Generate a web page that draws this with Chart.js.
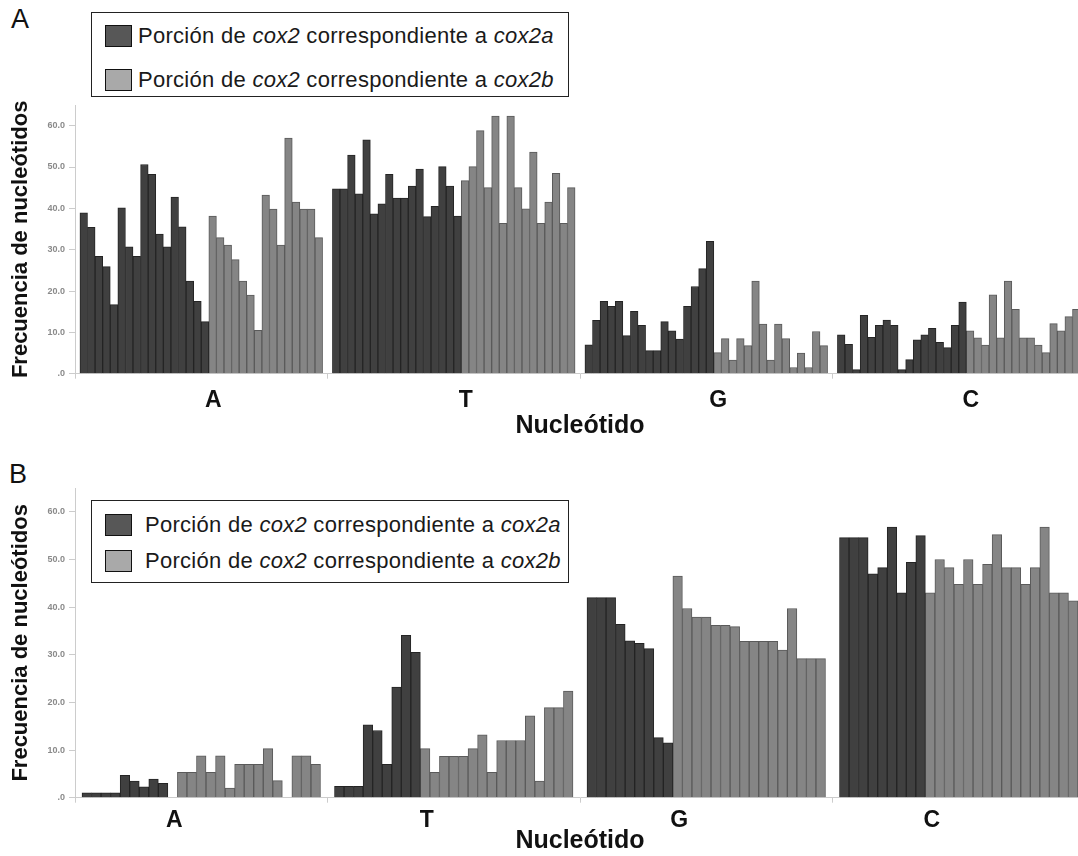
<!DOCTYPE html>
<html>
<head>
<meta charset="utf-8">
<script src="https://cdn.jsdelivr.net/npm/chart.js@4.4.1/dist/chart.umd.min.js"></script>
<style>
html,body{margin:0;padding:0;background:#fff;}
body{width:1078px;height:856px;overflow:hidden;position:relative;font-family:'Liberation Sans',Arial,sans-serif;}
canvas{position:absolute;left:0;}
#cA{top:0;}
#cB{top:460px;}
.panel-label{position:absolute;font-size:27px;line-height:1;color:#111;}
.legend{position:absolute;border:1.5px solid #222;background:#fff;box-sizing:border-box;z-index:2;}
.legend .row{position:absolute;left:13px;display:flex;align-items:center;white-space:nowrap;font-size:22px;letter-spacing:0.28px;color:#1a1a1a;height:24px;}
.legend .sw{width:27px;height:22px;box-sizing:border-box;border:1.5px solid #111;flex:none;}
</style>
</head>
<body>
<div class="panel-label" style="left:11px;top:6px;">A</div>
<div class="panel-label" style="left:9px;top:461px;">B</div>
<canvas id="cA" width="1100" height="460"></canvas>
<canvas id="cB" width="1100" height="396"></canvas>
<div id="legA" class="legend" style="left:91px;top:12px;width:478px;height:85px;"></div>
<div id="legB" class="legend" style="left:91px;top:500px;width:478px;height:83px;"></div>
<script>
// ---------- data ----------
const nucleotides = ['A', 'T', 'G', 'C'];
const seriesLabels = ['Porción de cox2 correspondiente a cox2a', 'Porción de cox2 correspondiente a cox2b'];
const yTickValues = [0, 10, 20, 30, 40, 50, 60];

// Panel A (one array per nucleotide: A, T, G, C)
const panelA_cox2a = [
  [38.9, 35.4, 28.4, 25.9, 16.7, 40.1, 30.7, 28.4, 50.6, 48.2, 33.8, 30.7, 42.7, 35.5, 22.4, 17.5, 12.6],
  [44.7, 44.7, 52.9, 43.5, 56.6, 38.7, 41.1, 48.2, 42.5, 42.5, 45.4, 49.5, 38.0, 40.5, 50.1, 45.4, 38.1],
  [7.0, 12.9, 17.5, 16.3, 17.5, 9.2, 15.1, 11.7, 5.6, 5.6, 12.6, 10.4, 8.4, 16.3, 21.1, 25.4, 32.0],
  [9.4, 7.1, 1.0, 14.1, 8.8, 11.7, 13.0, 11.7, 1.0, 3.4, 8.2, 9.4, 11.0, 7.6, 6.3, 11.7, 17.3]
];
const panelA_cox2b = [
  [38.1, 32.9, 31.1, 27.6, 22.4, 19.0, 10.5, 43.2, 39.8, 31.1, 57.0, 41.5, 39.8, 39.8, 32.9],
  [46.7, 50.1, 58.8, 45.0, 62.3, 36.4, 62.3, 45.0, 39.9, 53.6, 36.4, 41.5, 48.5, 36.4, 45.0],
  [5.1, 8.5, 3.3, 8.5, 6.8, 22.4, 12.0, 3.3, 12.0, 8.5, 1.5, 5.0, 1.5, 10.2, 6.8],
  [10.4, 8.7, 6.9, 19.1, 8.7, 22.4, 15.6, 8.7, 8.7, 6.9, 5.1, 12.1, 10.4, 13.8, 15.6]
];
// Panel B
const panelB_cox2a = [
  [1.0, 1.0, 1.0, 1.0, 4.7, 3.5, 2.3, 3.9, 3.0],
  [2.4, 2.4, 2.4, 15.3, 14.1, 7.0, 23.2, 34.1, 30.5],
  [42.0, 42.0, 42.0, 36.4, 32.9, 32.4, 31.3, 12.6, 11.5],
  [54.6, 54.6, 54.6, 47.0, 48.3, 56.8, 43.0, 49.4, 55.0]
];
const panelB_cox2b = [
  [0, 5.3, 5.3, 8.8, 5.3, 8.8, 2.0, 7.0, 7.0, 7.0, 10.3, 3.6, 0, 8.8, 8.8, 7.0],
  [10.3, 5.3, 8.7, 8.7, 8.7, 10.3, 13.2, 5.3, 12.0, 12.0, 12.0, 17.2, 3.5, 18.9, 18.9, 22.4],
  [46.5, 39.7, 37.9, 37.9, 36.2, 36.2, 35.9, 32.8, 32.8, 32.8, 32.8, 31.0, 39.7, 29.2, 29.2, 29.2],
  [43.0, 50.0, 48.3, 44.8, 50.0, 44.8, 49.0, 55.2, 48.3, 48.3, 44.8, 48.3, 56.8, 43.0, 43.0, 41.3]
];

// ---------- styles ----------
const FONT = "'Liberation Sans', Arial, Helvetica, sans-serif";
Chart.defaults.font.family = FONT;
const barFill = ['#404040', '#858585'];
const barBorder = ['#242424', '#5a5a5a'];
const legendSwatch = ['#575757', '#a9a9a9'];

// bars of each nucleotide sit side by side inside its category slot
function place(darkGroups, grayGroups, span) {
  const dark = [], gray = [];
  darkGroups.forEach((d, g) => {
    const b = grayGroups[g];
    const n = d.length + b.length;
    const step = span / n;
    const x0 = g - span / 2 + step / 2;
    d.forEach((v, k) => dark.push({ x: x0 + k * step, y: v }));
    b.forEach((v, k) => gray.push({ x: x0 + (d.length + k) * step, y: v }));
  });
  return [dark, gray];
}

function makePanel(canvas, darkGroups, grayGroups, o) {
  const [dark, gray] = place(darkGroups, grayGroups, o.span);
  return new Chart(canvas, {
    type: 'bar',
    data: {
      datasets: [dark, gray].map((d, i) => ({
        label: seriesLabels[i],
        data: d,
        backgroundColor: barFill[i],
        borderColor: barBorder[i],
        borderWidth: 1,
        grouped: false,
        barPercentage: 1,
        categoryPercentage: 1
      }))
    },
    options: {
      responsive: false,
      animation: false,
      layout: { padding: { top: o.padTop, left: 0, right: 15, bottom: 0 } },
      plugins: { legend: { display: false }, tooltip: { enabled: false } },
      scales: {
        x: { type: 'linear', min: -0.5, max: 3.5, display: false, offset: false },
        x2: {
          type: 'category', labels: nucleotides, position: 'bottom', offset: true,
          grid: { offset: true, drawOnChartArea: false, drawTicks: true, tickLength: 5, color: '#cccccc' },
          border: { color: '#cccccc' },
          ticks: { labelOffset: o.labelOffset, padding: o.tickPad, autoSkip: false, maxRotation: 0,
                   font: { size: 23, weight: 'bold' }, color: '#111' },
          title: { display: true, text: 'Nucleótido', color: '#111',
                   font: { size: 25, weight: 'bold' }, padding: { top: 0, bottom: o.titlePad } },
          afterFit: s => { s.height = o.xHeight; }
        },
        y: {
          type: 'linear', min: 0, max: 65, position: 'left',
          afterBuildTicks: s => { s.ticks = yTickValues.map(v => ({ value: v })); },
          ticks: { callback: v => (v === 0 ? '.0' : Number(v).toFixed(1)), padding: 4,
                   font: { size: 9, weight: 'bold' }, color: '#8a8a8a' },
          grid: { drawOnChartArea: false, tickLength: 6, color: '#cccccc' },
          border: { color: '#cccccc' },
          title: { display: true, text: 'Frecuencia de nucleótidos', color: '#111',
                   font: { size: 22, weight: 'bold' }, padding: { top: 8, bottom: 0 } },
          afterFit: s => { s.width = 75; }
        }
      }
    }
  });
}

function htmlLegend(chart, el, o) {
  chart.data.datasets.forEach((ds, i) => {
    const row = document.createElement('div');
    row.className = 'row';
    row.style.top = (o.rowCenters[i] - 12) + 'px';
    const sw = document.createElement('div');
    sw.className = 'sw';
    sw.style.background = legendSwatch[i];
    const tx = document.createElement('span');
    tx.style.marginLeft = o.gap + 'px';
    tx.innerHTML = ds.label.replace(/cox2\w*/g, m => '<i>' + m + '</i>');
    row.appendChild(sw);
    row.appendChild(tx);
    el.appendChild(row);
  });
}

const chartA = makePanel(document.getElementById('cA'), panelA_cox2a, panelA_cox2b,
  { span: 0.961, padTop: 105, xHeight: 86.3, labelOffset: 12, tickPad: 8, titlePad: 19 });
const chartB = makePanel(document.getElementById('cB'), panelB_cox2a, panelB_cox2b,
  { span: 0.9445, padTop: 28, xHeight: 58.3, labelOffset: -27, tickPad: 4, titlePad: 0 });

htmlLegend(chartA, document.getElementById('legA'), { rowCenters: [23, 67], gap: 6 });
htmlLegend(chartB, document.getElementById('legB'), { rowCenters: [24, 60], gap: 13 });
</script>
</body>
</html>
